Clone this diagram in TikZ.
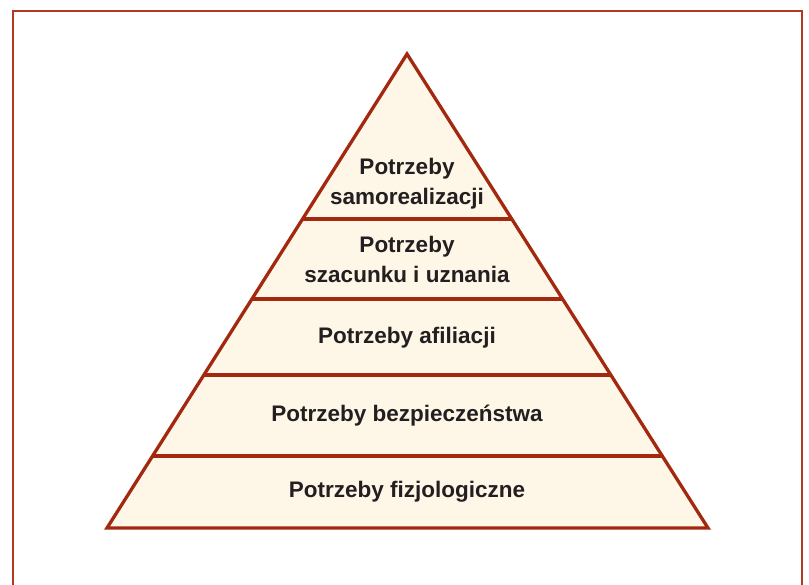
\documentclass[tikz,border=0pt]{standalone}
\usepackage{fontspec}
\setmainfont{Liberation Sans}
\usetikzlibrary{calc}
\definecolor{framecol}{HTML}{B23A22}
\definecolor{tricol}{HTML}{A2290F}
\definecolor{trifill}{HTML}{FEF7E8}
\definecolor{txtcol}{HTML}{231F20}
\begin{document}
\begin{tikzpicture}[x=1pt,y=-1pt,
  lbl/.style={font=\fontsize{22.5}{30}\selectfont\bfseries, text=txtcol, align=center, inner sep=0pt},
  band/.style={draw=tricol, line width=3.3pt},
  framestyle/.style={draw=framecol, line width=2.2pt}]
\useasboundingbox (0,0) rectangle (809,585);
% frame
\coordinate (f1) at (13,585);
\coordinate (f2) at (13,11);
\coordinate (f3) at (802,11);
\coordinate (f4) at (802,585);
\draw[framestyle] (f1) -- (f2) -- (f3) -- (f4);
% triangle
\coordinate (apex) at (407,54);
\coordinate (bl) at (107,528);
\coordinate (br) at (708,528);
\fill[trifill] (apex) -- (br) -- (bl) -- cycle;
\foreach \y/\n in {219/a,299/b,375/c,456/d}{
  \coordinate (l\n) at ($(apex)!{(\y-54)/474}!(bl)$);
  \coordinate (r\n) at ($(apex)!{(\y-54)/474}!(br)$);
}
\draw[band] (la) -- (ra);
\draw[band] (lb) -- (rb);
\draw[band] (lc) -- (rc);
\draw[band] (ld) -- (rd);
\draw[band, line join=miter] (apex) -- (br) -- (bl) -- cycle;
% labels
\node[lbl] (t1) at (407,184) {Potrzeby\\samorealizacji};
\node[lbl] (t2) at (407,259) {Potrzeby\\szacunku i uznania};
\node[lbl] (t3) at (407,338) {Potrzeby afiliacji};
\node[lbl] (t4) at (407,416) {Potrzeby bezpieczeństwa};
\node[lbl] (t5) at (407,492) {Potrzeby fizjologiczne};
\end{tikzpicture}
\end{document}
